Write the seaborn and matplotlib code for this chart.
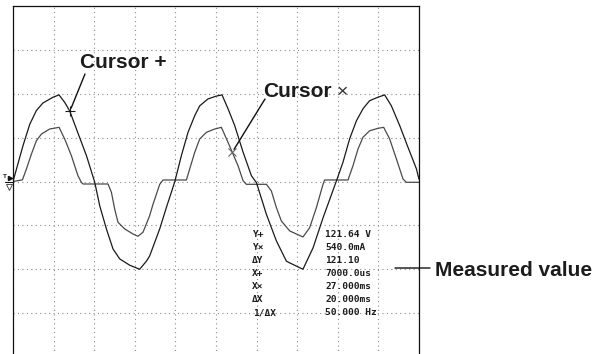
import numpy as np
import pandas as pd
import matplotlib
matplotlib.use("Agg")
import matplotlib.pyplot as plt
import seaborn as sns

# ---- Channel 1: voltage trace (time in ms, value in V) ----
time_ch1_ms = [0.00, 1.23, 2.06, 2.88, 3.69, 4.93, 5.67, 6.37, 7.00, 7.81,
               9.04, 10.06, 10.68, 11.50, 12.32, 13.14, 14.37, 15.60, 16.43, 16.83,
               18.07, 18.89, 19.91, 20.74, 21.55, 22.38, 22.99, 24.01, 25.05, 25.74,
               26.48, 27.30, 28.33, 29.36, 29.98, 31.21, 32.44, 33.67, 34.08, 35.71,
               36.95, 38.18, 39.83, 40.63, 41.46, 42.29, 43.10, 43.92, 44.95, 45.77,
               46.60, 47.62, 48.65, 49.68, 50.00]
ch1_volts = [0, 62, 99, 123, 136, 146, 150, 137, 121.64, 91,
             45, -1, -42, -82, -117, -134, -145, -152, -138, -129,
             -82, -45, -1, 45, 85, 114, 131, 143, 148, 150,
             126, 97, 51, 10, -2, -57, -103, -138, -141, -152,
             -115, -63, 1, 33, 74, 105, 126, 140, 146, 150,
             131, 97, 59, 22, 4]

# ---- Channel 2: current trace (time in ms, value in mA) ----
time_ch2_ms = [0.00, 1.16, 1.65, 2.27, 2.88, 3.50, 4.52, 5.67, 6.37, 7.19,
               8.00, 8.42, 8.62, 11.70, 12.12, 12.52, 12.93, 13.76, 14.78, 15.39,
               16.01, 16.83, 17.24, 18.07, 18.47, 21.35, 21.76, 22.38, 22.99, 23.82,
               24.84, 25.66, 26.48, 27.00, 27.71, 28.33, 28.74, 31.21, 31.82, 32.44,
               33.05, 34.08, 35.71, 36.54, 37.36, 38.18, 38.38, 41.26, 41.87, 42.49,
               43.10, 43.92, 44.95, 45.65, 46.39, 47.22, 48.03, 48.45, 50.00]
ch2_milliamps = [0, 30, 230, 507, 753, 876, 969, 1000, 784, 476,
                 107, -15, -46, -46, -199, -507, -753, -876, -969, -1011,
                 -937, -631, -421, -52, 28, 28, 231, 539, 784, 908,
                 969, 1000, 723, 540, 292, 15, -52, -52, -175, -483,
                 -729, -913, -1024, -852, -483, -52, 28, 28, 292, 600,
                 816, 937, 982, 1000, 784, 415, 46, -15, -15]

# ---- Cursor positions and measurement readout ----
cursor_plus_ms, cursor_plus_volts = 7.0, 121.64
cursor_cross_ms, cursor_cross_milliamps = 27.0, 540.0
readout_labels = ["Y+", "Y×", "ΔY", "X+", "X×", "ΔX", "1/ΔX"]
readout_values = ["121.64 V", "540.0mA", "121.10", "7000.0us",
                  "27.000ms", "20.000ms", "50.000 Hz"]

# Screen scaling
MS_PER_DIV = 5.0
VOLTS_PER_DIV = 76.0
MILLIAMPS_PER_DIV = 810.0

sns.set_style("white")
plt.rcParams["font.family"] = ["Liberation Sans", "DejaVu Sans"]

W, H = 596, 354
fig = plt.figure(figsize=(W / 100, H / 100), dpi=100)
ax = fig.add_axes([13 / W, -3 / H, 406 / W, 351 / H])

ch1 = pd.DataFrame({"t": time_ch1_ms, "div": np.array(ch1_volts) / VOLTS_PER_DIV})
ch2 = pd.DataFrame({"t": time_ch2_ms, "div": np.array(ch2_milliamps) / MILLIAMPS_PER_DIV})

sns.lineplot(data=ch2, x="t", y="div", ax=ax, color="#4a4a4a", linewidth=0.9,
             estimator=None, sort=False)
sns.lineplot(data=ch1, x="t", y="div", ax=ax, color="#1a1a1a", linewidth=0.9,
             estimator=None, sort=False)

ax.set_xlim(0, 10 * MS_PER_DIV)
ax.set_ylim(-4, 4)
ax.set_xticks(np.arange(0, 10 * MS_PER_DIV + 0.1, MS_PER_DIV))
ax.set_yticks(np.arange(-4, 5, 1))
ax.tick_params(length=0, labelbottom=False, labelleft=False)
ax.set_xlabel("")
ax.set_ylabel("")
ax.grid(True, color="#8c8c8c", linestyle=(0, (1, 3)), linewidth=0.8)
for sp in ax.spines.values():
    sp.set_visible(True)
    sp.set_color("#111111")
    sp.set_linewidth(0.9)

# Cursor marks
cp_y = cursor_plus_volts / VOLTS_PER_DIV
cc_y = cursor_cross_milliamps / MILLIAMPS_PER_DIV
ax.plot([cursor_plus_ms], [cp_y], marker="+", markersize=7, mew=0.8,
        color="#1a1a1a", linestyle="none")
ax.plot([cursor_cross_ms], [cc_y], marker="x", markersize=5.5, mew=0.8,
        color="#666666", linestyle="none")

# Trigger-level marker at the left edge
ax.plot([-1.0, 0.0], [0.0, 0.0], color="#111111", lw=0.8, clip_on=False)
ax.plot([-0.35], [0.07], marker=">", markersize=3, color="#111111", clip_on=False)
ax.plot([-0.55], [-0.13], marker="v", markersize=4, mfc="white", mec="#333333",
        mew=0.6, clip_on=False)
ax.text(-1.0, 0.12, "T", fontsize=4.5, fontweight="bold", color="#111111",
        ha="center", va="center", clip_on=False)

def fpx(x, y):
    """Figure pixel position from top-left pixel coordinates."""
    return x / W, 1 - y / H

label_kw = dict(fontsize=15, fontweight="bold", color="#1c1c1c", va="baseline")

# Callouts
fig.text(*fpx(80, 68), "Cursor +", **label_kw)
ax.annotate("", xy=(cursor_plus_ms, cp_y), xycoords="data",
            xytext=(85, H - 74), textcoords="figure pixels",
            arrowprops=dict(arrowstyle="-", color="#111111", lw=1.0,
                            shrinkA=0, shrinkB=2.5))

fig.text(*fpx(263, 97), "Cursor", **label_kw)
fig.text(*fpx(337, 97), "×", fontsize=14, color="#333333", va="baseline")
ax.annotate("", xy=(cursor_cross_ms, cc_y), xycoords="data",
            xytext=(265, H - 99), textcoords="figure pixels",
            arrowprops=dict(arrowstyle="-", color="#111111", lw=1.0,
                            shrinkA=0, shrinkB=2.5))

fig.text(*fpx(435, 275.5), "Measured value", **label_kw)
ax.annotate("", xy=(430, H - 268), xycoords="figure pixels",
            xytext=(395, H - 268), textcoords="figure pixels",
            arrowprops=dict(arrowstyle="-", color="#111111", lw=1.0,
                            shrinkA=0, shrinkB=0), annotation_clip=False)

# Measurement readout block
mono_kw = dict(fontsize=6.8, fontweight="bold", family="DejaVu Sans Mono",
               color="#1c1c1c", va="baseline")
for i, (lab, val) in enumerate(zip(readout_labels, readout_values)):
    base = 236.8 + i * 13.05
    lx = 253.5 if lab.startswith("1") else 252
    fig.text(*fpx(lx, base), lab, **mono_kw)
    fig.text(*fpx(325, base), val, **mono_kw)

fig.savefig("out.png", dpi=100)
